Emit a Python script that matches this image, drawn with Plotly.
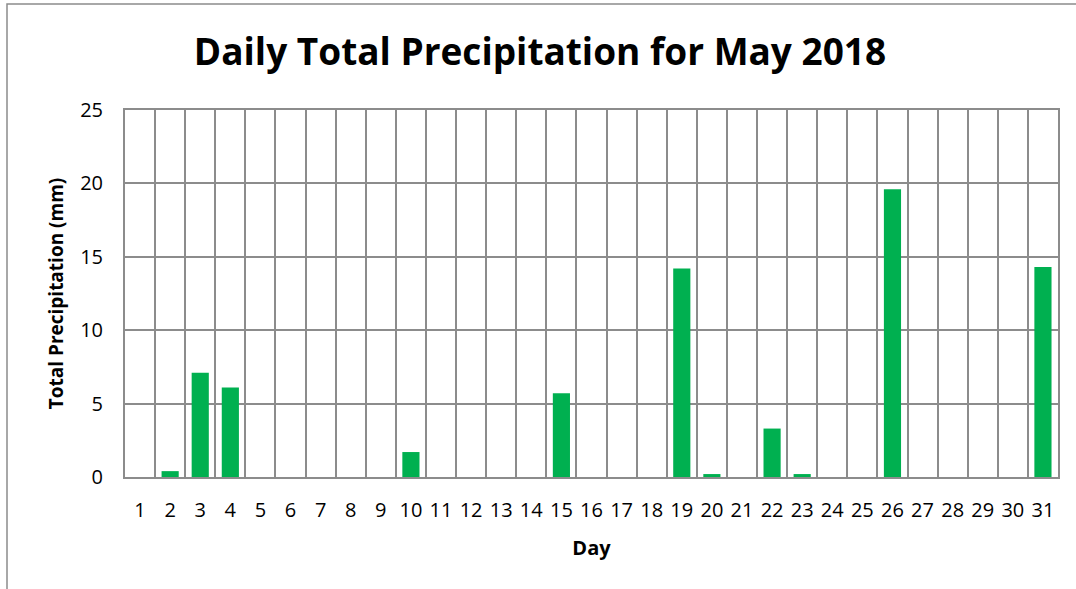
import plotly.graph_objects as go

days = list(range(1, 32))
precip = [0, 0.4, 7.1, 6.1, 0, 0, 0, 0, 0, 1.7, 0, 0, 0, 0, 5.7, 0, 0, 0, 14.2, 0.2,
          0, 3.3, 0.2, 0, 0, 19.6, 0, 0, 0, 0, 14.3]
y_ticks = [0, 5, 10, 15, 20, 25]

W, H = 1076, 589
L, R, T, B = 125, 18, 110, 112

grid = "#8c8c8c"
font = "Open Sans"

fig = go.Figure(go.Bar(x=days, y=precip, marker=dict(color="#00b050", line=dict(width=0)),
                       width=0.57))

fig.update_layout(
    width=W, height=H,
    margin=dict(l=L, r=R, t=T, b=B),
    paper_bgcolor="white", plot_bgcolor="white",
    showlegend=False,
    title=dict(text="<b>Daily Total Precipitation for May 2018</b>",
               font=dict(family=font, size=37, color="black"),
               x=(540 - L) / (W - L - R), xanchor="center", y=1 - 52 / H, yanchor="middle",
               xref="paper"),
    font=dict(family=font, color="black"),
)

fig.update_xaxes(
    range=[0.5, 31.5], tickvals=days, ticktext=[str(d) for d in days],
    tickfont=dict(size=20, family=font), ticks="", ticklen=0, ticklabelstandoff=14,
    showgrid=False, zeroline=False,
    showline=True, linecolor=grid, linewidth=2, mirror=True,
    minor=dict(tickvals=[d + 0.5 for d in range(0, 32)], showgrid=True,
               gridcolor=grid, gridwidth=2, ticks=""),
    title=dict(text="<b>Day</b>", font=dict(size=20, family=font), standoff=19),
)
fig.update_yaxes(
    range=[0, 25], tickvals=y_ticks, ticktext=[str(v) for v in y_ticks],
    tickfont=dict(size=20, family=font), ticks="", ticklabelstandoff=16,
    showgrid=True, gridcolor=grid, gridwidth=2, zeroline=False,
    showline=True, linecolor=grid, linewidth=2, mirror=True,
    title=dict(text="<b>Total Precipitation (mm)</b>", font=dict(size=19, family=font), standoff=11),
)

# outer chart border
fig.add_shape(type="rect", xref="paper", yref="paper",
              x0=(7 - L) / (W - L - R), x1=(W + 20 - L) / (W - L - R),
              y0=-(H + 20 - (H - B)) / (H - T - B), y1=(H - 4 - B) / (H - T - B),
              line=dict(color="#8c8c8c", width=1.5), fillcolor="rgba(0,0,0,0)", layer="below")

fig.write_html("out.html", config={"displayModeBar": False},
               post_script="document.body.style.margin='0';document.body.style.overflow='hidden';")
